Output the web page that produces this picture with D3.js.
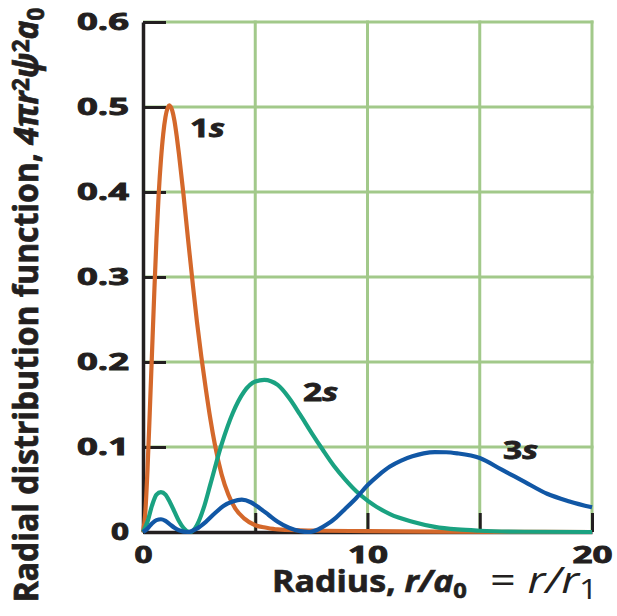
<!DOCTYPE html>
<html>
<head>
<meta charset="utf-8">
<script src="https://cdn.jsdelivr.net/npm/d3@7/dist/d3.min.js"></script>
<style>
  body { margin: 0; background: #fff; }
  text { font-family: 'Open Sans', sans-serif; fill: #231f20; }
</style>
</head>
<body>
<svg></svg>
<script>
// radius r/a0 and radial distribution value
const r1s = [0, 0.1, 0.2, 0.3, 0.4, 0.5, 0.6, 0.7, 0.8, 0.9, 1.0, 1.17, 1.3, 1.4, 1.5, 1.6, 1.8, 2.0, 2.2, 2.4, 2.6, 2.8, 3.0, 3.2, 3.5, 3.8, 4.1, 4.5, 5.0, 5.5, 6.0, 7, 8, 10, 13, 16, 20],
      p1s = [0, 0.022, 0.073, 0.14, 0.21, 0.28, 0.345, 0.398, 0.438, 0.468, 0.488, 0.502, 0.496, 0.484, 0.466, 0.445, 0.398, 0.346, 0.296, 0.248, 0.206, 0.168, 0.133, 0.103, 0.068, 0.044, 0.028, 0.016, 0.008, 0.005, 0.003, 0.002, 0.0015, 0.001, 0.0005, 0.0002, 0];

const r2s = [0, 0.2, 0.4, 0.6, 0.8, 1.0, 1.2, 1.4, 1.6, 1.8, 2.1, 2.4, 2.7, 3.0, 3.5, 4.0, 4.5, 5.0, 5.4, 6.0, 6.5, 7.0, 7.5, 8.0, 8.5, 9.0, 9.5, 10, 11, 12, 13, 14, 15, 17, 20],
      p2s = [0, 0.012, 0.031, 0.044, 0.047, 0.044, 0.035, 0.024, 0.013, 0.005, 0, 0.008, 0.028, 0.056, 0.103, 0.14, 0.165, 0.177, 0.179, 0.173, 0.158, 0.138, 0.117, 0.097, 0.078, 0.062, 0.048, 0.037, 0.021, 0.012, 0.006, 0.003, 0.0015, 0.0003, 0];

const r3s = [0, 0.2, 0.4, 0.6, 0.8, 1.0, 1.2, 1.4, 1.6, 2.0, 2.4, 2.8, 3.2, 3.6, 4.0, 4.4, 4.8, 5.2, 5.6, 6.0, 6.5, 7.0, 7.4, 7.8, 8.2, 8.6, 9.0, 9.5, 10, 10.5, 11, 11.5, 12, 12.5, 13, 13.5, 14, 15, 16, 17, 18, 19, 20],
      p3s = [0, 0.004, 0.01, 0.014, 0.015, 0.013, 0.009, 0.005, 0.002, 0, 0.004, 0.012, 0.022, 0.031, 0.036, 0.038, 0.035, 0.028, 0.02, 0.012, 0.005, 0.001, 0, 0.003, 0.009, 0.017, 0.027, 0.04, 0.055, 0.067, 0.077, 0.084, 0.089, 0.0925, 0.094, 0.0938, 0.0925, 0.087, 0.073, 0.059, 0.045, 0.036, 0.029];

const xTicks = [0, 5, 10, 15, 20],
      xTickLabels = ['0', '', '10', '', '20'],
      yTicks = [0, 0.1, 0.2, 0.3, 0.4, 0.5, 0.6],
      yTickLabels = ['0', '0.1', '0.2', '0.3', '0.4', '0.5', '0.6'];

const series = [
  {name: '1', r: r1s, p: p1s, color: '#d4682b', at: [2.09, 0.465]},
  {name: '2', r: r2s, p: p2s, color: '#1aa281', at: [7.13, 0.154]},
  {name: '3', r: r3s, p: p3s, color: '#1157a5', at: [16.04, 0.086]}
];

const width = 617,
      height = 616,
      plotLeft = 143,
      plotRight = 592,
      plotTop = 22,
      plotBottom = 532,
      ink = '#231f20',
      gridColor = '#a2c98a',
      xScale = d3.scaleLinear().domain([0, 20]).range([plotLeft, plotRight]),
      yScale = d3.scaleLinear().domain([0, 0.6]).range([plotBottom, plotTop]);

const svg = d3.select('svg')
    .attr('width', width)
    .attr('height', height);

// green grid
svg.append('g')
  .selectAll('line')
  .data(yTicks.slice(1))
  .enter()
  .append('line')
    .attr('x1', plotLeft)
    .attr('x2', plotRight + 1.5)
    .attr('y1', (d) => yScale(d))
    .attr('y2', (d) => yScale(d))
    .attr('stroke', gridColor)
    .attr('stroke-width', 3);

svg.append('g')
  .selectAll('line')
  .data(xTicks.slice(1))
  .enter()
  .append('line')
    .attr('x1', (d) => xScale(d))
    .attr('x2', (d) => xScale(d))
    .attr('y1', plotTop - 1.5)
    .attr('y2', plotBottom)
    .attr('stroke', gridColor)
    .attr('stroke-width', 3);

// black axes with inward ticks
const xAxis = d3.axisBottom(xScale)
                .tickValues(xTicks)
                .tickFormat((d, i) => xTickLabels[i])
                .tickSize(-19)
                .tickSizeOuter(0)
                .tickPadding(14),
      yAxis = d3.axisLeft(yScale)
                .tickValues(yTicks)
                .tickFormat((d, i) => yTickLabels[i])
                .tickSize(-23)
                .tickSizeOuter(0)
                .tickPadding(14);

const gx = svg.append('g')
    .attr('transform', `translate(0, ${plotBottom})`)
    .call(xAxis);

const gy = svg.append('g')
    .attr('transform', `translate(${plotLeft}, 0)`)
    .call(yAxis);

[gx, gy].forEach((g) => {
  g.select('.domain').attr('stroke', ink).attr('stroke-width', 3.5);
  g.selectAll('.tick line').attr('stroke', ink).attr('stroke-width', 3);
  g.selectAll('.tick text')
    .attr('fill', ink)
    .attr('stroke', ink)
    .attr('stroke-width', 0.9)
    .style('font-size', '24px')
    .style('font-weight', 700)
    .attr('lengthAdjust', 'spacingAndGlyphs')
    .attr('textLength', function () { return this.textContent.length === 1 ? 18 : (this.textContent.length === 2 ? 40 : 52); });
});

// curves
const line = d3.line()
               .x((d) => xScale(d[0]))
               .y((d) => yScale(d[1]))
               .curve(d3.curveMonotoneX);

svg.append('g')
  .selectAll('path')
  .data(series)
  .enter()
  .append('path')
    .attr('d', (s) => line(s.r.map((r, i) => [r, s.p[i]])))
    .attr('fill', 'none')
    .attr('stroke', (s) => s.color)
    .attr('stroke-width', 4.2)
    .attr('stroke-linejoin', 'round');

// series labels
const labels = svg.append('g')
  .selectAll('text')
  .data(series)
  .enter()
  .append('text')
    .attr('x', (s) => xScale(s.at[0]))
    .attr('y', (s) => yScale(s.at[1]))
    .attr('lengthAdjust', 'spacingAndGlyphs')
    .attr('textLength', 35)
    .attr('stroke', ink)
    .attr('stroke-width', 0.8)
    .style('font-size', '25px')
    .style('font-weight', 700);

labels.append('tspan').text((s) => s.name);
labels.append('tspan').text('s').style('font-style', 'italic');

// stretch a text block to a measured width
function fit(sel, x, y, w, k, rot) {
  const L = sel.node().getComputedTextLength();
  sel.attr('transform', `translate(${x}, ${y})` + (rot ? ' rotate(-90)' : '') + ` scale(${w / L}, ${k})`);
}

// y title
const yTitle = svg.append('text')
    .attr('stroke', ink)
    .attr('stroke-width', 0.6)
    .style('font-size', '27px')
    .style('font-weight', 700)
    .style('text-anchor', 'middle');

yTitle.append('tspan').text('Radial distribution function, ');
yTitle.append('tspan').text('4πr').style('font-style', 'italic');
yTitle.append('tspan').text('2').attr('baseline-shift', '40%').style('font-size', '19px');
yTitle.append('tspan').text('ψ').style('font-style', 'italic');
yTitle.append('tspan').text('2').attr('baseline-shift', '40%').style('font-size', '19px');
yTitle.append('tspan').text('a').style('font-style', 'italic');
yTitle.append('tspan').text('0').attr('baseline-shift', '-25%').style('font-size', '19px');

fit(yTitle, 38, 305, 595, 1.25, true);

// x title
const xTitle = svg.append('text')
    .attr('stroke', ink)
    .attr('stroke-width', 0.6)
    .style('font-size', '30px')
    .style('font-weight', 700);

xTitle.append('tspan').text('Radius, ');
xTitle.append('tspan').text('r/a').style('font-style', 'italic');
xTitle.append('tspan').text('0').attr('baseline-shift', '-25%').style('font-size', '21px');

fit(xTitle, 272, 592, 195, 1, false);

const xTitle2 = svg.append('text')
    .style('font-size', '37px')
    .style('font-weight', 400);

xTitle2.append('tspan').text('= ');
xTitle2.append('tspan').text('r/r').style('font-style', 'italic');
xTitle2.append('tspan').text('1').attr('baseline-shift', '-25%').style('font-size', '27px');

fit(xTitle2, 490, 593, 108, 1, false);
</script>
</body>
</html>
